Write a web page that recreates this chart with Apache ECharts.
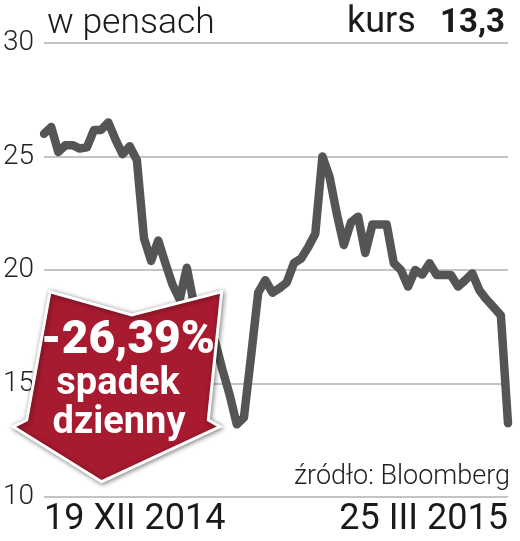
<!DOCTYPE html>
<html>
<head>
<meta charset="utf-8">
<script src="https://cdn.jsdelivr.net/npm/echarts@6/dist/echarts.min.js"></script>
<style>
html,body{margin:0;padding:0;background:#fff;}
#chart{width:520px;height:541px;}
</style>
</head>
<body>
<div id="chart"></div>
<script>
// Trading-day closing prices (PLN), 19 XII 2014 - 25 III 2015
var prices = [
  26.0, 26.3, 25.2, 25.5, 25.5, 25.35, 25.4, 26.17, 26.17, 26.5,
  25.75, 25.1, 25.45, 24.85, 21.4, 20.4, 21.3, 20.3, 19.35, 18.7,
  20.1, 18.5, 18.0, 17.6, 16.8, 15.6, 14.5, 13.2, 13.5, 16.2,
  19.0, 19.55, 19.0, 19.2, 19.45, 20.3, 20.5, 21.0, 21.6, 25.0,
  24.1, 22.5, 21.1, 22.1, 22.35, 20.75, 22.0, 22.0, 22.0, 20.3,
  20.0, 19.27, 20.0, 19.8, 20.3, 19.78, 19.78, 19.78, 19.27, 19.55,
  19.85, 19.1, 18.7, 18.35, 18.0, 13.25
];
var firstDate = '19 XII 2014';
var lastDate = '25 III 2015';
var yTicks = [10, 15, 20, 25, 30];
var titleLeft = 'w pensach';
var kursLabel = 'kurs';
var kursValue = '13,3';
var changeText = '-26,39%';
var changeLine1 = 'spadek';
var changeLine2 = 'dzienny';
var sourceText = 'źródło: Bloomberg';

// category labels: trading days (weekdays) from 19 Dec 2014 to 25 Mar 2015
var roman = ['I','II','III','IV','V','VI','VII','VIII','IX','X','XI','XII'];
var categories = [];
(function(){
  var d = new Date(2014, 11, 19);
  while (categories.length < prices.length) {
    var wd = d.getDay();
    if (wd !== 0 && wd !== 6) categories.push(d.getDate() + ' ' + roman[d.getMonth()] + ' ' + d.getFullYear());
    d.setDate(d.getDate() + 1);
  }
  categories[0] = firstDate;
  categories[categories.length - 1] = lastDate;
})();

var chart = echarts.init(document.getElementById('chart'), null, {renderer: 'canvas'});
var font = 'Roboto, "Noto Sans", sans-serif';
var option = {
  animation: false,
  backgroundColor: '#fff',
  grid: {left: 41, right: 12, top: 43, bottom: 44, containLabel: false},
  xAxis: {
    type: 'category',
    data: categories,
    boundaryGap: false,
    axisLine: {show: false},
    axisTick: {show: false},
    axisLabel: {
      interval: function(i){ return i === 0 || i === categories.length - 1; },
      showMinLabel: true, showMaxLabel: true,
      alignMinLabel: 'left', alignMaxLabel: 'right',
      margin: 5,
      color: '#1a1a1a',
      fontFamily: font,
      fontSize: 36,
      fontWeight: 400
    }
  },
  yAxis: {
    type: 'value',
    min: yTicks[0], max: yTicks[yTicks.length - 1], interval: 5,
    axisLine: {show: false},
    axisTick: {show: false},
    splitLine: {lineStyle: {color: '#b0b0b0', width: 1.5}},
    axisLabel: {
      margin: 10,
      color: '#222',
      fontFamily: font,
      fontSize: 28,
      fontWeight: 300
    }
  },
  series: [{
    type: 'line',
    data: prices,
    showSymbol: false,
    symbol: 'none',
    z: 2,
    lineStyle: {color: '#555555', width: 8.5, cap: 'round', join: 'round'}
  }],
  graphic: [
    {type: 'text', x: 47, y: 24.5, z: 10, style: {text: titleLeft, fill: '#1a1a1a', font: '300 35.5px ' + font, verticalAlign: 'middle', align: 'left'}},
    {type: 'text', x: 347, y: 22.5, z: 10, style: {text: kursLabel, fill: '#1a1a1a', font: '400 36px ' + font, verticalAlign: 'middle', align: 'left'}},
    {type: 'text', x: 505, y: 23.5, z: 10, style: {text: kursValue, fill: '#1a1a1a', font: '700 33px ' + font, verticalAlign: 'middle', align: 'right'}},
    {type: 'text', x: 510, y: 477.5, z: 10, style: {text: sourceText, fill: '#222', font: '300 27px ' + font, verticalAlign: 'middle', align: 'right'}},
    {type: 'polygon', z: 20,
      shape: {points: [[50,291.7],[131.7,315],[221.7,291.7],[208.3,420],[220,426.7],[101.7,481.7],[13.3,426.7],[26.7,420]]},
      style: {fill: '#a71a2f', stroke: '#ffffff', lineWidth: 3, lineJoin: 'miter', shadowBlur: 5, shadowColor: 'rgba(0,0,0,0.45)', shadowOffsetX: 1, shadowOffsetY: 1}
    },
    {type: 'text', x: 128, y: 341, z: 30, style: {text: changeText, fill: '#fff', font: '900 46px ' + font, verticalAlign: 'middle', align: 'center'}},
    {type: 'text', x: 118, y: 384.5, z: 30, style: {text: changeLine1, fill: '#fff', font: '700 38px ' + font, verticalAlign: 'middle', align: 'center'}},
    {type: 'text', x: 119, y: 423.5, z: 30, style: {text: changeLine2, fill: '#fff', font: '700 38px ' + font, verticalAlign: 'middle', align: 'center'}}
  ]
};
chart.setOption(option);
</script>
</body>
</html>
